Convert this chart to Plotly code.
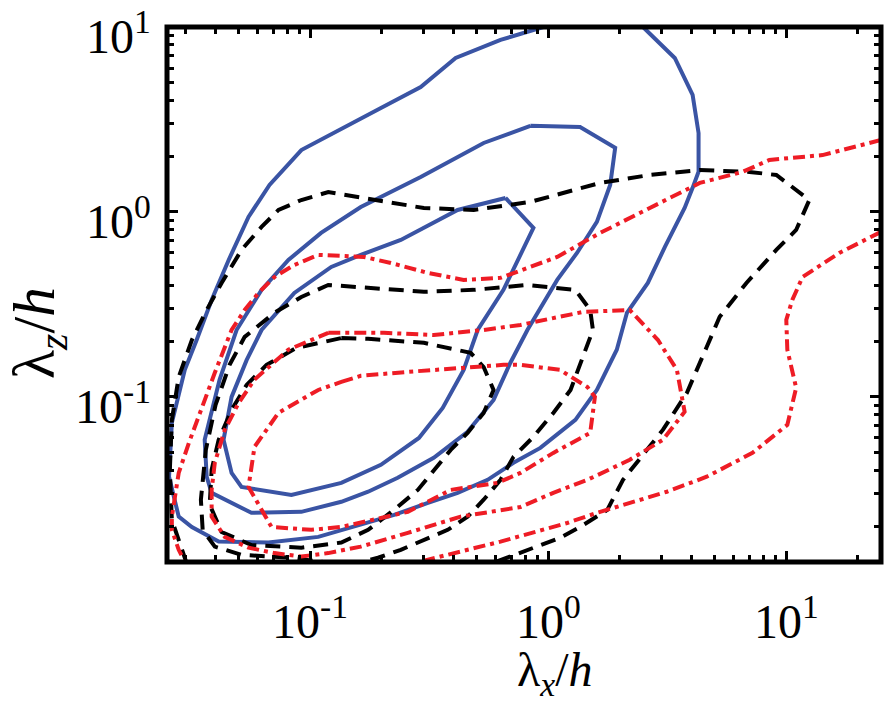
import math
import plotly.graph_objects as go

# ---------------- data (lambda_x/h , lambda_z/h) ----------------
# blue solid contours
blue1_x = [0.953, 0.630, 0.408, 0.291, 0.198, 0.0917, 0.0674, 0.0550, 0.0454, 0.0385, 0.0333, 0.0297, 0.0262,
           0.0255, 0.0280, 0.0318, 0.0412, 0.0667, 0.108, 0.163, 0.225, 0.312, 0.416, 0.556, 0.714, 0.926, 1.30,
           1.60, 1.94, 2.14, 2.62, 3.09, 3.74, 4.04, 4.28, 4.28, 4.04, 3.40, 2.50]
blue1_y = [10.0, 8.51, 6.80, 4.74, 3.65, 2.16, 1.40, 0.940, 0.550, 0.334, 0.203, 0.140, 0.0724, 0.0370, 0.0225,
           0.0198, 0.0165, 0.0163, 0.0175, 0.0203, 0.0230, 0.0267, 0.0303, 0.0356, 0.0440, 0.0530, 0.0751, 0.109,
           0.180, 0.285, 0.413, 0.647, 1.05, 1.35, 1.65, 2.67, 4.29, 6.80, 10.0]

blue2_x = [0.841, 1.36, 1.91, 1.82, 1.60, 1.32, 1.09, 0.817, 0.693, 0.589, 0.458, 0.330, 0.233, 0.175, 0.135,
           0.0917, 0.0566, 0.0385, 0.0367, 0.0360, 0.0416, 0.0490, 0.0624, 0.0809, 0.111, 0.163, 0.291, 0.416,
           0.535, 0.841]
blue2_y = [2.92, 2.88, 2.22, 1.40, 0.883, 0.600, 0.429, 0.230, 0.153, 0.0963, 0.0647, 0.0468, 0.0365, 0.0307,
           0.0271, 0.0239, 0.0236, 0.0303, 0.0370, 0.0586, 0.124, 0.230, 0.379, 0.550, 0.770, 1.064, 1.546, 1.983,
           2.36, 2.92]

blue3_x = [0.661, 0.866, 0.648, 0.505, 0.441, 0.360, 0.286, 0.198, 0.135, 0.0833, 0.0514, 0.0467, 0.0432, 0.0467,
           0.0540, 0.0624, 0.0857, 0.1225, 0.163, 0.240, 0.416, 0.661]
blue3_y = [1.19, 0.819, 0.379, 0.230, 0.140, 0.0872, 0.0600, 0.0429, 0.0343, 0.0295, 0.0326, 0.0388, 0.0586, 0.100,
           0.158, 0.230, 0.365, 0.504, 0.586, 0.706, 1.025, 1.19]

# black dashed contours
black1_x = [0.0303, 0.0262, 0.0257, 0.0262, 0.0280, 0.0318, 0.0367, 0.0424, 0.0514, 0.0624, 0.0735, 0.0917, 0.119,
            0.159, 0.1925, 0.300, 0.486, 0.841, 1.65, 2.67, 4.33, 7.00, 9.08, 12.5, 11.0, 9.08, 6.80, 5.25, 4.63,
            3.82, 3.03, 2.60, 2.06, 1.77, 1.36, 1.12, 0.866, 0.693, 0.572]
black1_y = [0.0125, 0.0216, 0.0403, 0.0751, 0.128, 0.203, 0.295, 0.413, 0.623, 0.830, 1.025, 1.16, 1.28, 1.205,
            1.16, 1.05, 1.025, 1.133, 1.435, 1.585, 1.687, 1.645, 1.585, 1.16, 0.799, 0.623, 0.413, 0.271, 0.186,
            0.105, 0.0663, 0.0517, 0.0356, 0.0245, 0.0198, 0.0173, 0.0153, 0.0137, 0.0125]

black2_x = [0.1285, 0.0833, 0.0514, 0.0397, 0.0353, 0.0347, 0.0364, 0.0400, 0.0458, 0.0530, 0.0707, 0.0917, 0.119,
            0.163, 0.300, 0.486, 0.817, 1.30, 1.50, 1.54, 1.40, 1.24, 1.05, 0.866, 0.714, 0.630, 0.535, 0.458,
            0.378, 0.300, 0.240, 0.1925, 0.153]
black2_y = [0.0125, 0.0135, 0.0140, 0.0155, 0.0191, 0.0278, 0.0517, 0.0905, 0.149, 0.211, 0.285, 0.347, 0.403,
            0.393, 0.370, 0.379, 0.403, 0.379, 0.295, 0.230, 0.1645, 0.109, 0.0819, 0.0608, 0.0474, 0.0356, 0.0278,
            0.0225, 0.0191, 0.0169, 0.0149, 0.0135, 0.0125]

black3_x = [0.135, 0.175, 0.300, 0.472, 0.535, 0.589, 0.535, 0.458, 0.389, 0.330, 0.283, 0.225, 0.175, 0.135,
            0.0917, 0.0566, 0.0424, 0.0378, 0.0385, 0.0412, 0.0467, 0.0540, 0.0655, 0.0873, 0.135]
black3_y = [0.208, 0.206, 0.196, 0.173, 0.145, 0.109, 0.0819, 0.0639, 0.0517, 0.0403, 0.0314, 0.0245, 0.0191,
            0.0163, 0.0153, 0.0158, 0.0186, 0.0261, 0.0403, 0.0586, 0.0851, 0.116, 0.149, 0.184, 0.208]

# red dash-dot contours
red1_x = [25.0, 14.2, 8.49, 6.54, 4.33, 3.57, 2.43, 1.65, 1.09, 0.630, 0.441, 0.312, 0.218, 0.168, 0.108, 0.0857,
          0.0707, 0.0606, 0.0530, 0.0467, 0.0397, 0.0350, 0.0309, 0.0280, 0.0262, 0.0262, 0.0280, 0.0300]
red1_y = [2.45, 2.03, 1.91, 1.645, 1.435, 1.267, 0.988, 0.770, 0.571, 0.440, 0.429, 0.468, 0.530, 0.571, 0.586,
          0.517, 0.445, 0.365, 0.295, 0.230, 0.135, 0.0883, 0.0564, 0.0388, 0.0225, 0.0191, 0.0149, 0.0125]

red2_x = [25.0, 16.7, 11.7, 10.6, 10.0, 10.1, 11.0, 10.1, 7.21, 4.63, 3.15, 2.27, 1.60, 1.20, 0.866, 0.630, 0.458,
          0.353, 0.265]
red2_y = [0.780, 0.600, 0.445, 0.334, 0.261, 0.180, 0.112, 0.0706, 0.0498, 0.0370, 0.0307, 0.0271, 0.0236, 0.0208,
          0.0184, 0.0165, 0.0149, 0.0137, 0.0125]

red3_x = [0.119, 0.204, 0.330, 0.535, 0.764, 1.40, 2.20, 2.89, 3.47, 3.74, 3.03, 2.20, 1.46, 1.05, 0.764, 0.428,
          0.257, 0.163, 0.119, 0.0917, 0.0707, 0.0550, 0.0437, 0.0385, 0.0385, 0.0397, 0.0437, 0.0500, 0.0583,
          0.0809, 0.119]
red3_y = [0.222, 0.222, 0.216, 0.230, 0.245, 0.288, 0.295, 0.203, 0.140, 0.083, 0.0586, 0.0457, 0.0356, 0.0303,
          0.0254, 0.0225, 0.0184, 0.0155, 0.0143, 0.0137, 0.0143, 0.0153, 0.0175, 0.0225, 0.0314, 0.0440, 0.0663,
          0.0928, 0.124, 0.180, 0.222]

red4_x = [0.135, 0.163, 0.257, 0.416, 0.648, 0.764, 1.12, 1.46, 1.57, 1.50, 1.05, 0.764, 0.612, 0.389, 0.257,
          0.135, 0.101, 0.0687, 0.0550, 0.0583, 0.0735, 0.108, 0.135]
red4_y = [0.1205, 0.130, 0.1365, 0.1435, 0.149, 0.149, 0.140, 0.113, 0.100, 0.0639, 0.0498, 0.0388, 0.0343, 0.0314,
          0.0239, 0.0198, 0.0191, 0.0198, 0.0326, 0.0537, 0.0819, 0.109, 0.1205]

# axes
x_range = [0.025, 25.0]
y_range = [0.0128, 10.0]
major_vals = [0.1, 1, 10]
major_text = ["10<sup>-1</sup>", "10<sup>0</sup>", "10<sup>1</sup>"]
x_minor = [0.03, 0.04, 0.05, 0.06, 0.07, 0.08, 0.09, 0.2, 0.3, 0.4, 0.5, 0.6, 0.7, 0.8, 0.9,
           2, 3, 4, 5, 6, 7, 8, 9, 20]
y_minor = [0.02, 0.03, 0.04, 0.05, 0.06, 0.07, 0.08, 0.09, 0.2, 0.3, 0.4, 0.5, 0.6, 0.7, 0.8, 0.9,
           2, 3, 4, 5, 6, 7, 8, 9]
x_title = "λ<sub><i>x</i></sub>/<i>h</i>"
y_title = "λ<sub><i>z</i></sub>/<i>h</i>"

# ---------------- figure ----------------
BLUE = "#3a54a4"
RED = "#ee1c25"
BLACK = "#000000"
LW = 4
FONT = "Liberation Serif"
TICK_SIZE = 48

fig = go.Figure()

for xs, ys in [(blue1_x, blue1_y), (blue2_x, blue2_y), (blue3_x, blue3_y)]:
    fig.add_trace(go.Scatter(x=xs, y=ys, mode="lines", line=dict(color=BLUE, width=LW), showlegend=False))
for xs, ys in [(black1_x, black1_y), (black2_x, black2_y), (black3_x, black3_y)]:
    fig.add_trace(go.Scatter(x=xs, y=ys, mode="lines",
                             line=dict(color=BLACK, width=LW, dash="15px,9px"), showlegend=False))
for xs, ys in [(red1_x, red1_y), (red2_x, red2_y), (red3_x, red3_y), (red4_x, red4_y)]:
    fig.add_trace(go.Scatter(x=xs, y=ys, mode="lines",
                             line=dict(color=RED, width=LW, dash="12px,5px,4px,5px"), showlegend=False))

axis_common = dict(
    type="log", automargin=False,
    showgrid=False, zeroline=False,
    showline=False, mirror="ticks",
    ticks="inside", ticklen=11, tickwidth=3, tickcolor="black",
    tickmode="array", tickvals=major_vals, showticklabels=False,
)

annotations = []
# tick labels placed on the axes' own coordinates
for v, t in zip(major_vals, major_text):
    annotations.append(dict(text=t, xref="x", yref="paper", x=math.log10(v), y=0,
                            xanchor="center", yanchor="top", yshift=-24, showarrow=False,
                            font=dict(family=FONT, size=TICK_SIZE, color="black")))
    annotations.append(dict(text=t, xref="paper", yref="y", x=0, y=math.log10(v),
                            xanchor="right", yanchor="middle", xshift=-14, yshift=-6, showarrow=False,
                            font=dict(family=FONT, size=TICK_SIZE, color="black")))
# axis titles
annotations.append(dict(text=x_title, xref="paper", yref="paper",
                        x=(555 - 167) / 714, y=(562 - 673) / 535, xanchor="center", yanchor="middle",
                        showarrow=False, font=dict(family=FONT, size=48, color="black")))
annotations.append(dict(text=y_title, xref="paper", yref="paper",
                        x=(38 - 167) / 714, y=(562 - 333) / 535, xanchor="center", yanchor="middle",
                        textangle=-90, showarrow=False, font=dict(family=FONT, size=60, color="black")))

fig.update_layout(
    template="none",
    width=886, height=715,
    margin=dict(l=167, r=5, t=27, b=153, autoexpand=False),
    paper_bgcolor="white", plot_bgcolor="white",
    font=dict(family=FONT, color="black"),
    xaxis=dict(range=[math.log10(v) for v in x_range],
               minor=dict(ticks="inside", ticklen=7, tickwidth=3, tickcolor="black",
                          tickmode="array", tickvals=x_minor),
               **axis_common),
    yaxis=dict(range=[math.log10(v) for v in y_range],
               minor=dict(ticks="inside", ticklen=7, tickwidth=3, tickcolor="black",
                          tickmode="array", tickvals=y_minor),
               **axis_common),
    shapes=[dict(type="rect", xref="paper", yref="paper", x0=0, x1=1, y0=0, y1=1,
                 line=dict(color="black", width=5), layer="above")],
    annotations=annotations,
)

fig.write_html("out.html")
